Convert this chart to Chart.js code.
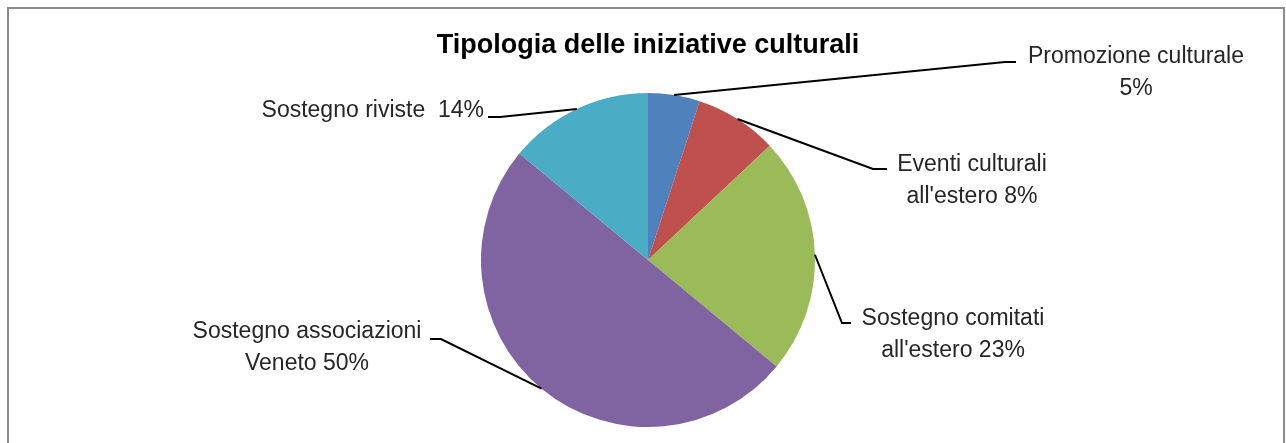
<!DOCTYPE html>
<html>
<head>
<meta charset="utf-8">
<title>Tipologia delle iniziative culturali</title>
<script src="https://cdn.jsdelivr.net/npm/chart.js@4.4.1/dist/chart.umd.min.js"></script>
<style>
    html, body { margin: 0; padding: 0; background: #fff; }
    #wrap { width: 1286px; height: 443px; position: relative; }
</style>
</head>
<body>
<div id="wrap"><canvas id="pieChart" width="1286" height="443"></canvas></div>
<script>
// Chart data
const categories = [
    ['Promozione culturale'],
    ['Eventi culturali', "all'estero"],
    ['Sostegno comitati', "all'estero"],
    ['Sostegno associazioni', 'Veneto'],
    ['Sostegno riviste']
];
const percentages = [5, 8, 23, 50, 14];
const sliceColors = ['#4F81BD', '#C0504D', '#9BBB59', '#8064A2', '#4BACC6'];

// Where each label sits (elbow of the leader line, end of the line, text anchor)
const labelLayout = [
    { elbow: [1005, 62], end: [1016, 62], text: [1136, 63], align: 'center', join: ' ' , pctOwnLine: true },
    { elbow: [873, 169], end: [887, 169], text: [972, 171], align: 'center', join: ' ' },
    { elbow: [842, 323], end: [851, 323], text: [953, 325], align: 'center', join: ' ' },
    { elbow: [441, 339], end: [430, 339], text: [307, 338], align: 'center', join: ' ' },
    { elbow: [500, 117], end: [488, 117], text: [484, 117], align: 'right', join: '  ' }
];

const LABEL_FONT = '23px "Liberation Sans", Arial, sans-serif';
const LINE_STEP = 32;

const leaderLabels = {
    id: 'leaderLabels',
    afterDatasetsDraw(chart) {
        const ctx = chart.ctx;
        const arcs = chart.getDatasetMeta(0).data;
        ctx.save();
        arcs.forEach((arc, i) => {
            const lay = labelLayout[i];
            const mid = (arc.startAngle + arc.endAngle) / 2;
            const sx = arc.x + Math.cos(mid) * arc.outerRadius;
            const sy = arc.y + Math.sin(mid) * arc.outerRadius;

            ctx.strokeStyle = '#000';
            ctx.lineWidth = 2;
            ctx.beginPath();
            ctx.moveTo(sx, sy);
            ctx.lineTo(lay.elbow[0], lay.elbow[1]);
            ctx.lineTo(lay.end[0], lay.end[1]);
            ctx.stroke();

            const lines = categories[i].slice();
            const pct = percentages[i] + '%';
            if (lay.pctOwnLine) {
                lines.push(pct);
            } else {
                lines[lines.length - 1] += lay.join + pct;
            }
            ctx.fillStyle = '#262626';
            ctx.font = LABEL_FONT;
            ctx.textAlign = lay.align;
            ctx.textBaseline = 'alphabetic';
            lines.forEach((t, k) => {
                ctx.fillText(t, lay.text[0], lay.text[1] + k * LINE_STEP);
            });
        });
        ctx.restore();
    }
};

const frame = {
    id: 'frame',
    beforeDraw(chart) {
        const ctx = chart.ctx;
        ctx.save();
        ctx.fillStyle = '#fff';
        ctx.fillRect(0, 0, chart.width, chart.height);
        ctx.strokeStyle = '#8c8c8c';
        ctx.lineWidth = 2;
        ctx.strokeRect(8, 8, 1276, 460);
        ctx.restore();
    }
};

new Chart(document.getElementById('pieChart'), {
    type: 'pie',
    data: {
        labels: categories.map(c => c.join(' ')),
        datasets: [{
            data: percentages,
            backgroundColor: sliceColors,
            borderWidth: 0
        }]
    },
    options: {
        responsive: false,
        animation: false,
        layout: { padding: { top: 20, left: 10, right: 0, bottom: 16 } },
        plugins: {
            legend: { display: false },
            tooltip: { enabled: false },
            title: {
                display: true,
                text: 'Tipologia delle iniziative culturali',
                color: '#000',
                font: { family: '"Liberation Sans", Arial, sans-serif', size: 27, weight: 'bold', lineHeight: 1.2 },
                padding: { top: 9, bottom: 31.6 }
            }
        }
    },
    plugins: [frame, leaderLabels]
});
</script>
</body>
</html>
